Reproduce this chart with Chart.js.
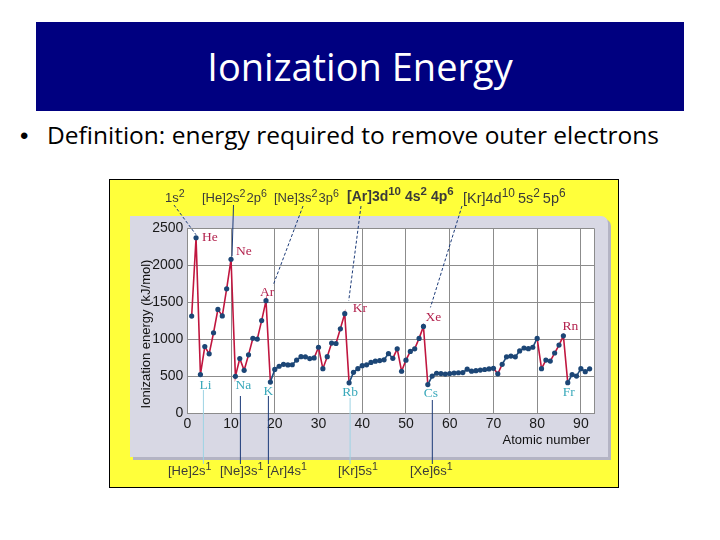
<!DOCTYPE html>
<html>
<head>
<meta charset="utf-8">
<title>Ionization Energy</title>
<script src="https://cdn.jsdelivr.net/npm/chart.js@4.4.1/dist/chart.umd.min.js"></script>
<style>
  html, body { margin: 0; padding: 0; background: #fff; }
  #slide { position: relative; width: 720px; height: 540px; overflow: hidden; background: #fff; font-family: "Open Sans", sans-serif; }
  #banner { position: absolute; left: 36px; top: 22px; width: 648px; height: 89px; background: #000080; }
  #title { position: absolute; left: 0; top: 47px; width: 720px; text-align: center; color: #fff; font-size: 38px; line-height: 38px; }
  #dot { position: absolute; left: 20px; top: 124px; font-family: "Liberation Sans", Arial, sans-serif; font-size: 24px; line-height: 24px; color: #000; }
  #bullet { position: absolute; left: 47px; top: 123px; font-size: 24.5px; line-height: 24.5px; color: #000; white-space: nowrap; }
  #ie { position: absolute; left: 109px; top: 179px; }
</style>
</head>
<body>
<div id="slide">
  <div id="banner"></div>
  <div id="title">Ionization Energy</div>
  <div id="dot">&bull;</div>
  <div id="bullet">Definition: energy required to remove outer electrons</div>
  <canvas id="ie" width="510" height="309"></canvas>
</div>
<script>
// first ionization energies (kJ/mol)
const atomicNumber = [
  1, 2, 3, 4, 5, 6, 7, 8, 9, 10,
  11, 12, 13, 14, 15, 16, 17, 18, 19, 20,
  21, 22, 23, 24, 25, 26, 27, 28, 29, 30,
  31, 32, 33, 34, 35, 36, 37, 38, 39, 40,
  41, 42, 43, 44, 45, 46, 47, 48, 49, 50,
  51, 52, 53, 54, 55, 56, 57, 58, 59, 60,
  61, 62, 63, 64, 65, 66, 67, 68, 69, 70,
  71, 72, 73, 74, 75, 76, 77, 78, 79, 80,
  81, 82, 83, 84, 85, 86, 87, 88, 89, 90,
  91, 92
];
const ionizationEnergy = [
  1312, 2372, 520, 900, 801, 1086, 1402, 1314, 1681, 2081,
  496, 738, 578, 787, 1012, 1000, 1251, 1521, 419, 590,
  633, 659, 651, 653, 717, 762, 760, 737, 745, 890,
  600, 762, 947, 941, 1140, 1345, 408, 550, 600, 640,
  652, 684, 702, 710, 720, 804, 740, 868, 565, 715,
  834, 869, 1010, 1172, 385, 500, 538, 534, 527, 533,
  540, 545, 547, 593, 566, 573, 581, 589, 597, 605,
  530, 659, 761, 770, 760, 840, 880, 870, 890, 1010,
  600, 716, 703, 812, 920, 1045, 410, 520, 500, 600,
  560, 598
];
const xTicks = [0, 10, 20, 30, 40, 50, 60, 70, 80, 90];
const yTicks = [0, 500, 1000, 1500, 2000, 2500];

// runs of the curve drawn in red (from Z, to Z)
const redRanges = [[1, 19], [29, 37], [47, 55], [70, 72], [80, 87]];

const nobleZ = [2, 10, 18, 36, 54, 86];
const nobleNames = ['He', 'Ne', 'Ar', 'Kr', 'Xe', 'Rn'];
const alkaliZ = [3, 11, 19, 37, 55, 87];
const alkaliNames = ['Li', 'Na', 'K', 'Rb', 'Cs', 'Fr'];

const topConfigs = ['1s{2}', '[He]2s{2}2p{6}', '[Ne]3s{2}3p{6}', '[Ar]3d{10}4s{2}4p{6}', '[Kr]4d{10}5s{2}5p{6}'];
const bottomConfigs = ['[He]2s{1}', '[Ne]3s{1}', '[Ar]4s{1}', '[Kr]5s{1}', '[Xe]6s{1}'];

// ---- layout / style ----
const OX = 109, OY = 179;           // canvas position on the slide
const RED = '#c0163f';
const BLUE = '#1f4d7e';
const DOT = '#1c4676';
const NAVY = '#1b3a78';
const PALE = '#9ed3e4';
const GRID = '#8c8c8c';

// label offsets from their point [dx, dy, align]
const nobleOffsets = [[6, 0, 'left'], [5, -8, 'left'], [1, -8, 'center'], [8, -5, 'left'], [2, -9, 'left'], [-1, -9, 'left']];
const alkaliOffsets = [[5, 11, 'center'], [8, 9, 'center'], [-2, 9, 'center'], [1, 10, 'center'], [3, 9, 'center'], [1, 10, 'center']];

// top labels: left, baseline, size, weight, gap, start of connector, end offset from point, dashed
const topLayout = [
  { x: 165, y: 202, size: 13, w: 'normal', gap: 1, from: [174, 205], to: [0, -3], dash: true },
  { x: 202, y: 202, size: 13, w: 'normal', gap: 1, from: [233.5, 205], to: [1, -3], dash: false },
  { x: 274, y: 202, size: 13, w: 'normal', gap: 1, from: [303, 206], to: [7, -15], dash: true },
  { x: 347, y: 201, size: 14, w: 'bold', gap: 4, from: [361, 206], to: [4, -13], dash: true },
  { x: 463, y: 203, size: 14.5, w: 'normal', gap: 3, from: [462, 206], to: [7, -19], dash: true }
];
// bottom labels: left, baseline, connector dx from point, top y, colour
const bottomLayout = [
  { x: 168, y: 475, dx: 3, top: 390, color: PALE },
  { x: 220, y: 475, dx: 5, top: 396, color: NAVY },
  { x: 267, y: 475, dx: -2, top: 396, color: NAVY },
  { x: 338, y: 475, dx: 1, top: 398, color: PALE },
  { x: 410, y: 475, dx: 4.5, top: 400, color: NAVY }
];

function drawConfig(ctx, text, x, y, size, weight, gap) {
  const re = /\{([^}]*)\}|([^{]+)/g;
  let m, cx = x;
  while ((m = re.exec(text))) {
    const sup = m[1] !== undefined;
    const s = sup ? m[1] : m[2];
    ctx.font = weight + ' ' + (sup ? size * 0.82 : size) + 'px "Liberation Sans", Arial, sans-serif';
    ctx.fillText(s, cx, sup ? y - size * 0.42 : y);
    cx += ctx.measureText(s).width + (sup ? gap : 0);
  }
}

const slideDecor = {
  id: 'slideDecor',
  beforeDraw(chart) {
    const ctx = chart.ctx, a = chart.chartArea;
    const W = chart.width, H = chart.height;
    ctx.save();
    ctx.fillStyle = '#ffff3a';
    ctx.fillRect(0, 0, W, H);
    ctx.strokeStyle = '#000';
    ctx.lineWidth = 1;
    ctx.strokeRect(0.5, 0.5, W - 1, H - 1);
    // grey panel with a soft shadow
    const px = 130 - OX, py = 216 - OY, pw = 478, ph = 241;
    ctx.fillStyle = '#b4b4c4';
    ctx.beginPath();
    ctx.roundRect(px + 3, py + 3, pw, ph, [0, 7, 0, 0]);
    ctx.fill();
    ctx.fillStyle = '#d8d8e4';
    ctx.beginPath();
    ctx.roundRect(px, py, pw, ph, [0, 7, 0, 0]);
    ctx.fill();
    ctx.fillStyle = '#fff';
    ctx.fillRect(a.left, a.top, a.right - a.left, a.bottom - a.top);
    ctx.restore();
  },
  afterDatasetsDraw(chart) {
    const ctx = chart.ctx;
    const xs = chart.scales.x, ys = chart.scales.y;
    const pt = z => {
      const i = atomicNumber.indexOf(z);
      return [xs.getPixelForValue(atomicNumber[i]), ys.getPixelForValue(ionizationEnergy[i])];
    };
    ctx.save();
    // element symbols
    ctx.textBaseline = 'middle';
    ctx.font = '13.5px "Liberation Serif", "Times New Roman", serif';
    nobleZ.forEach((z, k) => {
      const p = pt(z), o = nobleOffsets[k];
      ctx.fillStyle = '#b3234e';
      ctx.textAlign = o[2];
      ctx.fillText(nobleNames[k], p[0] + o[0], p[1] + o[1]);
    });
    alkaliZ.forEach((z, k) => {
      const p = pt(z), o = alkaliOffsets[k];
      ctx.fillStyle = '#3aa9bb';
      ctx.textAlign = o[2];
      ctx.fillText(alkaliNames[k], p[0] + o[0], p[1] + o[1]);
    });

    // connectors to noble gases
    ctx.lineWidth = 1;
    topLayout.forEach((l, k) => {
      const p = pt(nobleZ[k]);
      ctx.strokeStyle = NAVY;
      ctx.setLineDash(l.dash ? [3, 2] : []);
      ctx.beginPath();
      ctx.moveTo(l.from[0] - OX, l.from[1] - OY);
      ctx.lineTo(p[0] + l.to[0], p[1] + l.to[1]);
      ctx.stroke();
    });
    ctx.setLineDash([]);
    // connectors to alkali metals
    bottomLayout.forEach((l, k) => {
      const p = pt(alkaliZ[k]);
      ctx.strokeStyle = l.color;
      ctx.beginPath();
      ctx.moveTo(p[0] + l.dx, l.top - OY);
      ctx.lineTo(p[0] + l.dx, 464 - OY);
      ctx.stroke();
    });

    // electron configurations
    ctx.textAlign = 'left';
    ctx.textBaseline = 'alphabetic';
    ctx.fillStyle = '#3a3a3a';
    topConfigs.forEach((t, k) => {
      const l = topLayout[k];
      drawConfig(ctx, t, l.x - OX, l.y - OY, l.size, l.w, l.gap);
    });
    bottomConfigs.forEach((t, k) => {
      const l = bottomLayout[k];
      drawConfig(ctx, t, l.x - OX, l.y - OY, 13, 'normal', 1);
    });

    // axis titles
    ctx.fillStyle = '#111';
    ctx.font = '13px "Liberation Sans", Arial, sans-serif';
    ctx.textAlign = 'right';
    ctx.textBaseline = 'middle';
    ctx.fillText('Atomic number', 590 - OX, 440 - OY);
    ctx.translate(146 - OX, 334 - OY);
    ctx.rotate(-Math.PI / 2);
    ctx.textAlign = 'center';
    ctx.fillText('Ionization energy (kJ/mol)', 0, 0);
    ctx.restore();
  }
};

const ctx = document.getElementById('ie').getContext('2d');
new Chart(ctx, {
  type: 'line',
  data: {
    datasets: [{
      data: atomicNumber.map((z, i) => ({ x: z, y: ionizationEnergy[i] })),
      borderColor: BLUE,
      borderWidth: 1.6,
      segment: {
        borderColor: c => {
          const a = atomicNumber[c.p0DataIndex], b = atomicNumber[c.p1DataIndex];
          return redRanges.some(r => a >= r[0] && b <= r[1]) ? RED : BLUE;
        }
      },
      pointRadius: 2.6,
      pointBackgroundColor: DOT,
      pointBorderWidth: 0,
      tension: 0
    }]
  },
  options: {
    responsive: false,
    animation: false,
    events: [],
    layout: { padding: { left: 38.3, right: 25, top: 49.3, bottom: 47 } },
    plugins: { legend: { display: false }, tooltip: { enabled: false } },
    scales: {
      x: {
        type: 'linear', min: 0, max: 93,
        afterBuildTicks: s => { s.ticks = xTicks.map(v => ({ value: v })).concat([{ value: 93 }]); },
        afterFit: s => { s.height = 28; },
        grid: { color: GRID, drawTicks: false },
        border: { color: GRID },
        ticks: {
          padding: 3,
          color: '#1a1a1a',
          font: { family: '"Liberation Sans", Arial, sans-serif', size: 14 },
          callback: v => (xTicks.includes(v) ? String(v) : '')
        }
      },
      y: {
        min: 0, max: 2500,
        afterBuildTicks: s => { s.ticks = yTicks.map(v => ({ value: v })); },
        afterFit: s => { s.width = 40; },
        grid: { color: GRID, drawTicks: false },
        border: { color: GRID },
        ticks: {
          padding: 4,
          color: '#1a1a1a',
          font: { family: '"Liberation Sans", Arial, sans-serif', size: 14 },
          callback: v => String(v)
        }
      }
    }
  },
  plugins: [slideDecor]
});
</script>
</body>
</html>
